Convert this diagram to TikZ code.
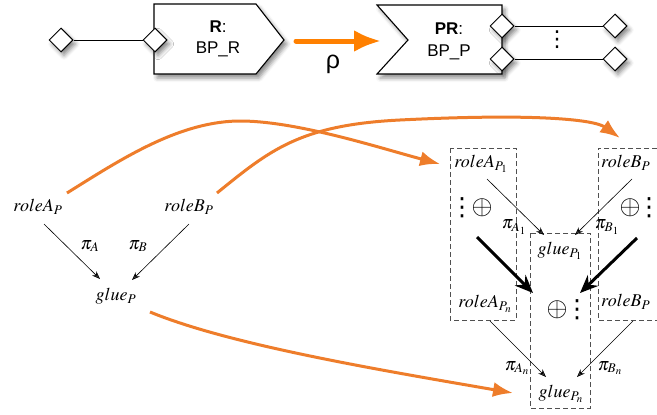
\documentclass[tikz,border=0pt]{standalone}
\usepackage{mathptmx}
\usepackage[no-math]{fontspec}
\newfontfamily\sansf{Liberation Sans}
\newfontfamily\dejav{DejaVu Sans}
\usetikzlibrary{arrows.meta,shapes.geometric,shadows.blur}
\definecolor{orA}{HTML}{EE7D2B}
\definecolor{orB}{HTML}{FF8000}
\definecolor{dashg}{HTML}{505050}
\newcommand\vdsym{\makebox[7pt][c]{⋮}}
\begin{document}
\begin{tikzpicture}[x=1pt,y=-1pt,
  shad/.style={blur shadow={shadow xshift=3pt,shadow yshift=-4pt,shadow blur radius=4pt,shadow opacity=45}},
  boxst/.style={draw,line width=1.1pt,fill=white,line join=miter,shad},
  port/.style={diamond,draw,fill=white,line width=1pt,minimum width=24pt,minimum height=24pt,inner sep=0pt,shad},
  slbl/.style={font=\sansf\fontsize{17}{19}\selectfont,align=center,inner sep=0pt},
  lbl/.style={font=\fontsize{18}{21}\selectfont,inner sep=0pt},
  sym/.style={font=\fontsize{27}{29}\selectfont,inner sep=0pt},
  vd/.style={font=\dejav\fontsize{25}{25}\selectfont,inner sep=0pt},
  thinarr/.style={-{Stealth[length=8pt,width=6pt]},line width=0.6pt},
  thickarr/.style={-{Stealth[length=18pt,width=15pt,inset=6pt]},line width=3pt},
  orarr/.style={draw=orA,line width=3pt,-{Latex[length=20pt,width=15pt]}},
  dbox/.style={draw=dashg,dash pattern=on 5pt off 3pt,line width=0.9pt}]
\useasboundingbox (0,0) rectangle (657,415);

% ---- top: R box
\draw[boxst] (154,4) -- (256,4) -- (284,40) -- (256,74) -- (154,74) -- cycle;
\node[slbl] (Rl) at (218,39) {\textbf{R}:\\[2pt]BP\_R};
\node[port] (dL) at (61,40) {};
\node[port] (dR) at (155,40) {};
\draw[line width=1pt] (dL) -- (dR);

% ---- rho arrow
\coordinate (rhoS) at (296,41);
\coordinate (rhoE) at (381,41);
\draw[orB,line width=5pt,line cap=round,-{Latex[length=27pt,width=22pt]}] (rhoS) -- (rhoE);
\node[font=\sansf\fontsize{25}{27}\selectfont,inner sep=0pt] (rho) at (333,64) {ρ};

% ---- top: PR box
\draw[boxst] (377,5) -- (502,5) -- (502,74) -- (377,74) -- (408,40) -- cycle;
\node[slbl] (PRl) at (449,41) {\textbf{PR}:\\[3pt]BP\_P};
\node[port] (dQ1) at (615,26) {};
\node[port] (dQ2) at (615,59) {};
\node[port] (dP1) at (502,26) {};
\node[port] (dP2) at (502,59) {};
\draw[line width=1pt] (dP1) -- (dQ1);
\draw[line width=1pt] (dP2) -- (dQ2);
\node[vd,font=\dejav\fontsize{22}{22}\selectfont] (tdots) at (557,40) {\vdsym};

% ---- bottom left
\node[lbl] (rA) at (38,207) {$roleA_P$};
\node[lbl] (rB) at (189,207) {$roleB_P$};
\node[lbl] (gP) at (116,296) {$glue_P$};
\node[lbl] (piA) at (90,246) {$\pi_A$};
\node[lbl] (piB) at (138,246) {$\pi_B$};
\draw[thinarr] ([shift={(6,17)}]rA.center) -- ([shift={(-16,-17)}]gP.center);
\draw[thinarr] ([shift={(0,17)}]rB.center) -- ([shift={(16,-16)}]gP.center);

% ---- bottom right: dashed boxes
\draw[dbox] (450,148) rectangle (516,320);
\draw[dbox] (530,233) rectangle (590,408);
\draw[dbox] (657,148) -- (598,148) -- (598,320) -- (657,320);

\node[lbl] (rA1) at (481,164) {$roleA_{P_1}$};
\node[lbl,anchor=west] (rB1) at (601,163) {$roleB_P$};
\node[lbl] (g1) at (560,251) {$glue_{P_1}$};
\node[lbl] (piA1) at (514,227) {$\pi_{A_1}$};
\node[lbl] (piB1) at (607,227) {$\pi_{B_1}$};

\node[vd] (vA) at (462,208) {\vdsym};
\node[sym] (oA) at (482,208) {$\oplus$};
\node[sym] (oB) at (630,208) {$\oplus$};
\node[vd] (vB) at (649,208) {\vdsym};
\node[sym] (oM) at (557,310) {$\oplus$};
\node[vd] (vM) at (577,310) {\vdsym};

\node[lbl] (rAn) at (485,304) {$roleA_{P_n}$};
\node[lbl,anchor=west] (rBn) at (601,302) {$roleB_P$};
\node[lbl] (piAn) at (517,368) {$\pi_{A_n}$};
\node[lbl] (piBn) at (610,368) {$\pi_{B_n}$};
\node[lbl] (gn) at (561,394) {$glue_{P_n}$};

\draw[thinarr] ([shift={(6,15)}]rA1.center) -- ([shift={(-16,-16)}]g1.center);
\draw[thinarr] ([shift={(31,16)}]rB1.west) -- ([shift={(15,-16)}]g1.center);
\draw[thinarr] ([shift={(5,17)}]rAn.center) -- ([shift={(-15,-17)}]gn.center);
\draw[thinarr] ([shift={(32,19)}]rBn.west) -- ([shift={(16,-17)}]gn.center);
\draw[thickarr] ([shift={(-5,29)}]oA.center) -- ([shift={(-24,-17)}]oM.center);
\draw[thickarr] ([shift={(7,30)}]oB.center) -- ([shift={(23,-17)}]oM.center);

% ---- orange curves
\draw[orarr] ([shift={(29,-14)}]rA.center) .. controls (120,160) and (180,120) .. (243,121)
   .. controls (300,122) and (380,148) .. ([shift={(-41,0)}]rA1.center);
\draw[orarr] ([shift={(28,-14)}]rB.center) .. controls (270,150) and (300,125) .. (400,120)
   .. controls (540,113) and (595,120) .. ([shift={(19,-25)}]rB1.west);
\draw[orarr] ([shift={(34,16)}]gP.center) .. controls (230,345) and (380,370) .. ([shift={(-48,-1)}]gn.center);
\end{tikzpicture}
\end{document}
